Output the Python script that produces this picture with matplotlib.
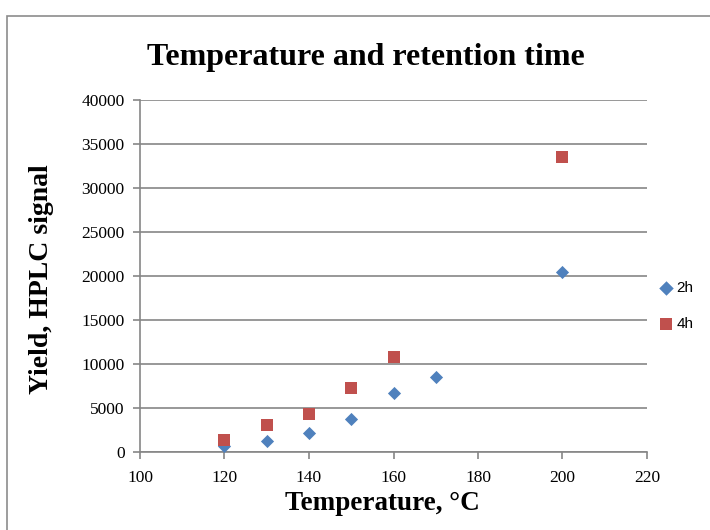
import matplotlib
matplotlib.use("Agg")
import matplotlib.pyplot as plt
from matplotlib.patches import Rectangle

temp_2h = [120, 130, 140, 150, 160, 170, 200]
yield_2h = [650, 1300, 2200, 3750, 6750, 8550, 20450]
temp_4h = [120, 130, 140, 150, 160, 200]
yield_4h = [1420, 3050, 4350, 7250, 10800, 33560]
x_ticks = [100, 120, 140, 160, 180, 200, 220]
y_ticks = [0, 5000, 10000, 15000, 20000, 25000, 30000, 35000, 40000]

fig = plt.figure(figsize=(7.1, 5.3), dpi=100)
fig.patches.append(Rectangle((7/710, -0.1), 1.2, 1 - 16/530 + 0.1, transform=fig.transFigure,
                             fill=False, edgecolor="#8c8c8c", linewidth=1.2))
ax = fig.add_axes([140/710, 78/530, 507/710, 352/530])

ax.scatter(temp_2h, yield_2h, marker="D", s=45, color="#4f81bd", label="2h", zorder=3, linewidths=0)
ax.scatter(temp_4h, yield_4h, marker="s", s=72, color="#c0504d", label="4h", zorder=3, linewidths=0)

ax.set_xlim(100, 220)
ax.set_ylim(0, 40000)
ax.set_xticks(x_ticks)
ax.set_yticks(y_ticks)
ax.yaxis.grid(True, color="#868686", linewidth=1.2)
ax.set_axisbelow(True)
for s in ["top", "right"]:
    ax.spines[s].set_visible(False)
for s in ["left", "bottom"]:
    ax.spines[s].set_color("#868686")
    ax.spines[s].set_linewidth(1.2)
ax.tick_params(axis="both", colors="#868686", length=5, width=1.2, labelcolor="black",
               labelsize=12.5)
ax.tick_params(axis="y", pad=6)
ax.tick_params(axis="x", pad=8)
for lab in ax.get_xticklabels() + ax.get_yticklabels():
    lab.set_family("Liberation Serif")

fig.text(366/710, 1 - 58/530, "Temperature and retention time", ha="center", va="center",
         family="Liberation Serif", fontweight="bold", fontsize=23)
fig.text(382/710, 1 - 504/530, "Temperature, °C", ha="center", va="center",
         family="Liberation Serif", fontweight="bold", fontsize=19.5)
fig.text(42/710, 1 - 279/530, "Yield, HPLC signal", ha="center", va="center", rotation=90,
         family="Liberation Serif", fontweight="bold", fontsize=20)

leg = ax.legend(loc="center left", bbox_to_anchor=(651/710, 1 - 306/530), bbox_transform=fig.transFigure,
                frameon=False, handletextpad=0.15, labelspacing=1.5, handlelength=1.0, borderpad=0,
                markerscale=1.1, prop={"family": "Liberation Sans", "size": 11})

fig.savefig("out.png", dpi=100)
